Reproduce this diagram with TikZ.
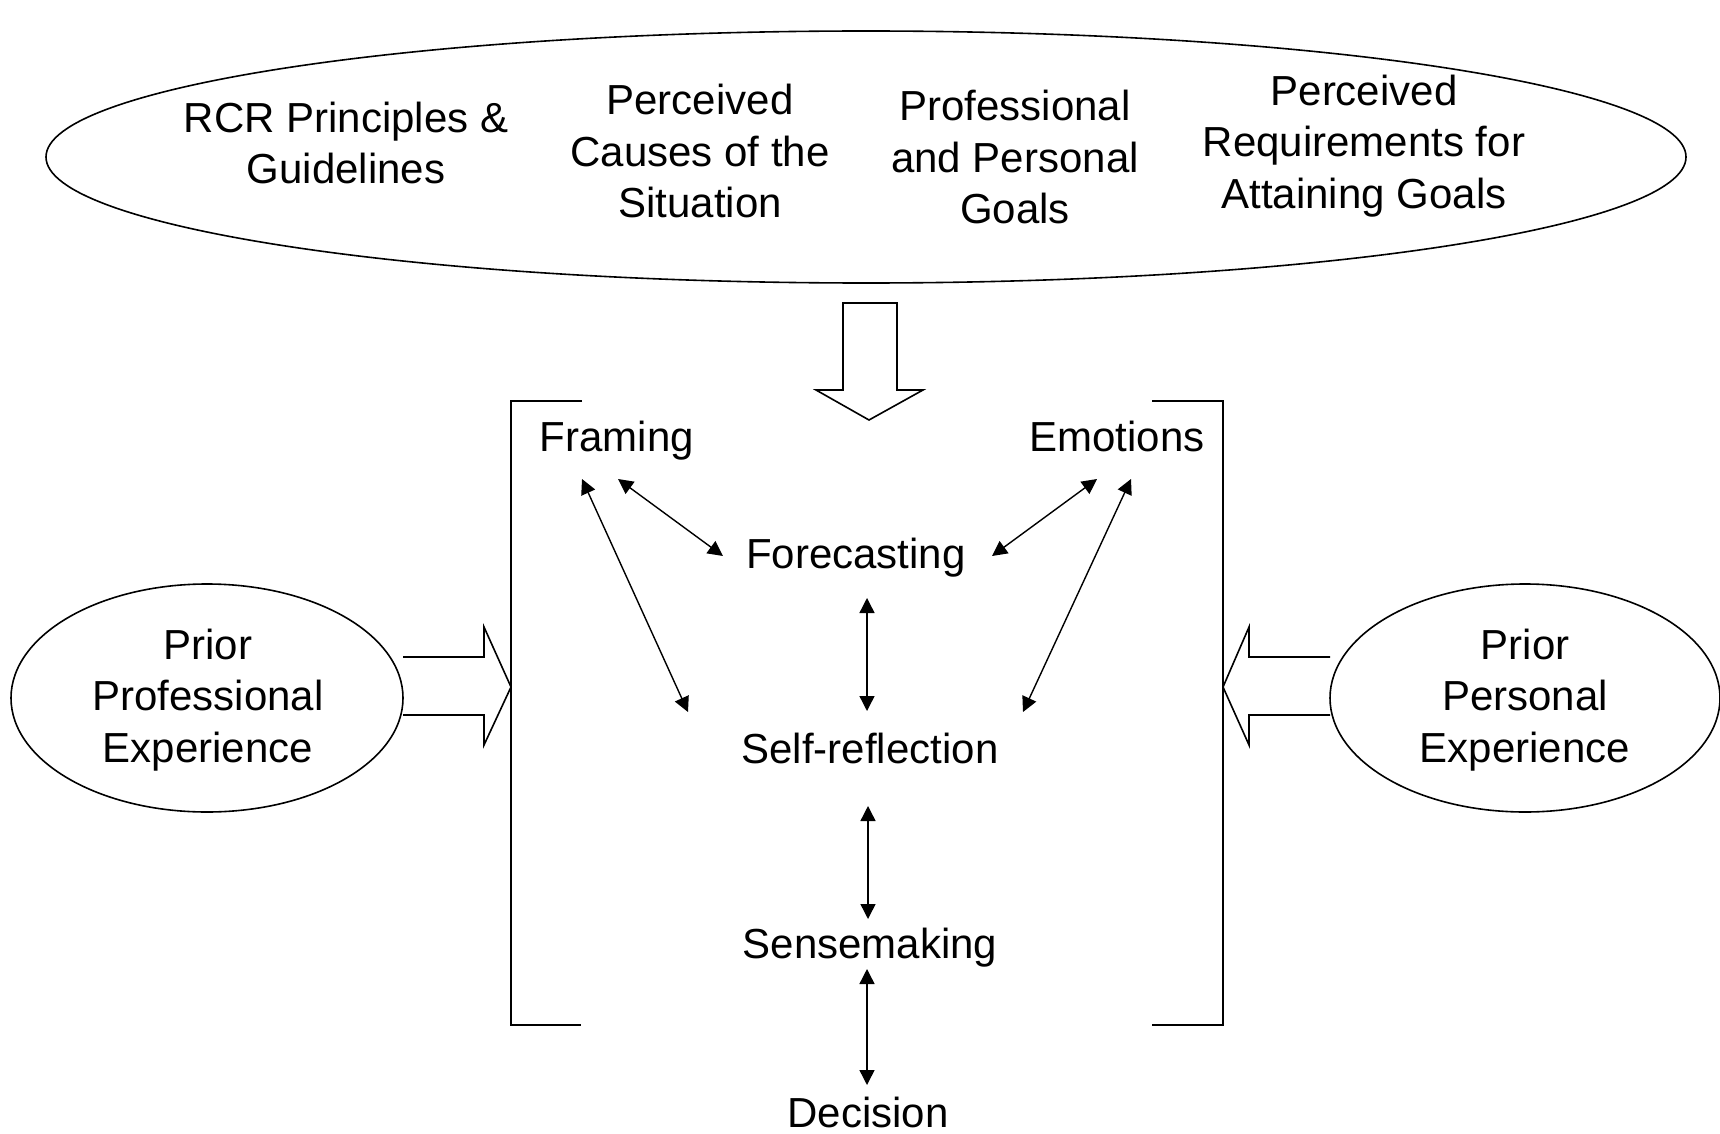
\documentclass[tikz,border=0pt]{standalone}
\usepackage{fontspec}
\setmainfont{Liberation Sans}
\usetikzlibrary{arrows.meta}
\begin{document}
\begin{tikzpicture}[x=1pt,y=-1pt,
  lbl/.style={inner sep=0pt,anchor=base,font=\fontsize{42}{51.5}\selectfont},
  blk/.style={inner sep=0pt,align=center,font=\fontsize{42}{51.5}\selectfont},
  shape line/.style={line width=1.6pt},
  dbl/.style={line width=1.4pt,{Triangle[length=15pt,width=15pt]}-{Triangle[length=15pt,width=15pt]}}]
\useasboundingbox (0,0) rectangle (1720,1134);
% top ellipse
\draw[shape line] (866,157) ellipse [x radius=820,y radius=126];
\node[blk] (rcr) at (346,143) {RCR Principles \&\\Guidelines};
\node[blk] (cause) at (700,151) {Perceived\\Causes of the\\Situation};
\node[blk] (goals) at (1015,157) {Professional\\and Personal\\Goals};
\node[blk] (req) at (1364,146) {Perceived\\Requirements for\\Attaining Goals};
% down block arrow
\draw[shape line,line join=miter] (843,303) -- (897,303) -- (897,390) -- (923,390) -- (869,420) -- (816,390) -- (843,390) -- cycle;
% brackets
\draw[shape line] (582,401) -- (511,401) -- (511,1025) -- (581,1025);
\draw[shape line] (1152,401) -- (1223,401) -- (1223,1025) -- (1152,1025);
% side ellipses
\draw[shape line] (207,698) ellipse [x radius=196,y radius=114];
\draw[shape line] (1525,698) ellipse [x radius=195,y radius=114];
\node[blk] (ppro) at (208,700) {Prior\\Professional\\Experience};
\node[blk] (pper) at (1525,700) {Prior\\Personal\\Experience};
% side block arrows
\draw[shape line,line join=miter] (403,657) -- (484,657) -- (484,627) -- (511,687) -- (484,745) -- (484,715) -- (403,715);
\draw[shape line,line join=miter] (1330,657) -- (1249,657) -- (1249,627) -- (1223,687) -- (1249,745) -- (1249,715) -- (1330,715);
% labels
\node[lbl] (framing) at (617,451) {Framing};
\node[lbl] (emotions) at (1117,451) {Emotions};
\node[lbl] (forecast) at (856,568) {Forecasting};
\node[lbl] (selfref) at (870,763) {Self-reflection};
\node[lbl] (sense) at (870,958) {Sensemaking};
\node[lbl] (decision) at (868,1127) {Decision};
% connector ends
\coordinate (fa) at (618,479); \coordinate (fb) at (582,479);
\coordinate (ea) at (1097,479); \coordinate (eb) at (1131,479);
\coordinate (fcl) at (723,556); \coordinate (fcr) at (992,556);
\coordinate (fcb) at (867,598);
\coordinate (srl) at (688,712); \coordinate (srr) at (1023,712);
\coordinate (srt) at (867,711); \coordinate (srb) at (868,806);
\coordinate (snt) at (868,919); \coordinate (snb) at (867,969);
\coordinate (dct) at (867,1085);
\draw[dbl] (fa) -- (fcl);
\draw[dbl] (fb) -- (srl);
\draw[dbl] (ea) -- (fcr);
\draw[dbl] (eb) -- (srr);
\draw[dbl] (fcb) -- (srt);
\draw[dbl] (srb) -- (snt);
\draw[dbl] (snb) -- (dct);
\end{tikzpicture}
\end{document}
